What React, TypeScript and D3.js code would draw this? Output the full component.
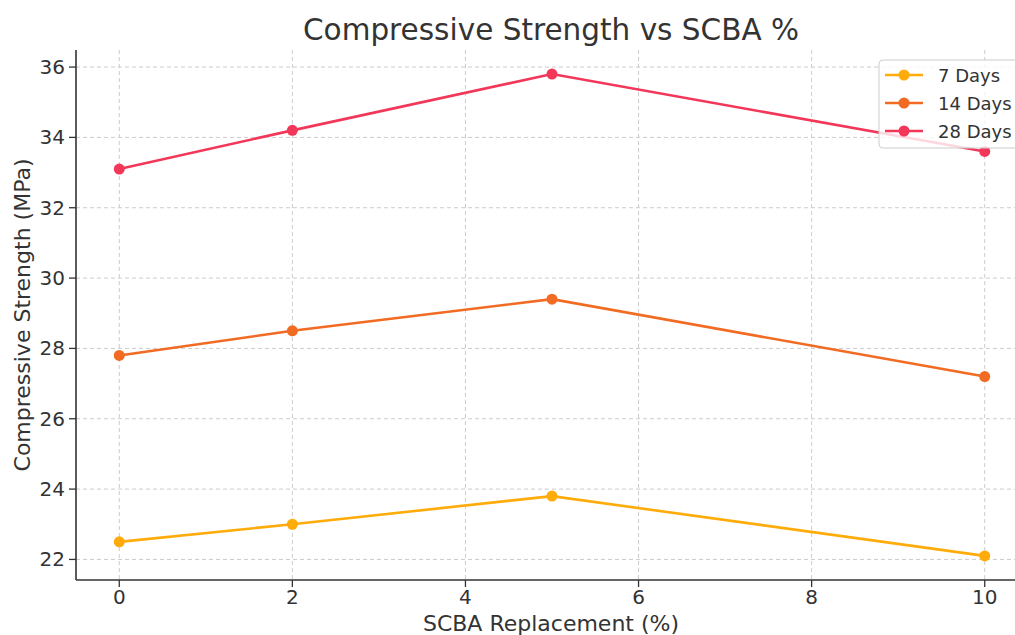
import React from "react";
import * as d3 from "d3";

const replacement = [0, 2, 5, 10];
const days7 = [22.5, 23.0, 23.8, 22.1];
const days14 = [27.8, 28.5, 29.4, 27.2];
const days28 = [33.1, 34.2, 35.8, 33.6];
const seriesNames = ["7 Days", "14 Days", "28 Days"];
const seriesColors = ["#FFAB0A", "#F26B23", "#F23759"];
const xTicks = [0, 2, 4, 6, 8, 10];
const yTicks = [22, 24, 26, 28, 30, 32, 34, 36];

const W = 1015;
const H = 635;
const FONT = "DejaVu Sans, sans-serif";
const TXT = "#333333";

export default function App() {
  const left = 76, right = 1028, top = 50, bottom = 580;
  const x = d3.scaleLinear().domain([-0.5, 10.5]).range([left, right]);
  const y = d3.scaleLinear().domain([21.415, 36.485]).range([bottom, top]);
  const allSeries = [days7, days14, days28];
  const line = d3
    .line<number>()
    .x((_, i) => x(replacement[i]))
    .y((d) => y(d));

  return (
    <div style={{ position: "absolute", left: 0, top: 0 }}>
      <svg width={W} height={H} style={{ display: "block", background: "#fff" }}>
        <rect x={0} y={0} width={W} height={H} fill="#fff" />
        {/* grid */}
        {xTicks.map((t) => (
          <line key={"gx" + t} x1={x(t)} x2={x(t)} y1={top} y2={bottom} stroke="#cccccc" strokeWidth={1} strokeDasharray="4,3" />
        ))}
        {yTicks.map((t) => (
          <line key={"gy" + t} x1={left} x2={right} y1={y(t)} y2={y(t)} stroke="#cccccc" strokeWidth={1} strokeDasharray="4,3" />
        ))}
        {/* spines */}
        <line x1={left} x2={left} y1={top} y2={bottom} stroke={TXT} strokeWidth={1.6} />
        <line x1={left} x2={right} y1={bottom} y2={bottom} stroke={TXT} strokeWidth={1.6} />
        {/* ticks */}
        {xTicks.map((t) => (
          <g key={"tx" + t}>
            <line x1={x(t)} x2={x(t)} y1={bottom} y2={bottom + 7} stroke={TXT} strokeWidth={1.3} />
            <text x={x(t)} y={bottom + 24} textAnchor="middle" fontFamily={FONT} fontSize={20} fill={TXT}>
              {t}
            </text>
          </g>
        ))}
        {yTicks.map((t) => (
          <g key={"ty" + t}>
            <line x1={left - 7} x2={left} y1={y(t)} y2={y(t)} stroke={TXT} strokeWidth={1.3} />
            <text x={left - 11} y={y(t) + 7} textAnchor="end" fontFamily={FONT} fontSize={20} fill={TXT}>
              {t}
            </text>
          </g>
        ))}
        {/* lines */}
        {allSeries.map((s, si) => (
          <g key={"s" + si}>
            <path d={line(s) || ""} fill="none" stroke={seriesColors[si]} strokeWidth={2.6} />
            {s.map((v, i) => (
              <circle key={i} cx={x(replacement[i])} cy={y(v)} r={5.5} fill={seriesColors[si]} />
            ))}
          </g>
        ))}
        {/* title and labels */}
        <text x={551} y={40} textAnchor="middle" fontFamily={FONT} fontSize={29.5} fill={TXT}>
          Compressive Strength vs SCBA %
        </text>
        <text x={551} y={631} textAnchor="middle" fontFamily={FONT} fontSize={22} fill={TXT}>
          SCBA Replacement (%)
        </text>
        <text
          transform={`translate(30,${(top + bottom) / 2}) rotate(-90)`}
          textAnchor="middle"
          fontFamily={FONT}
          fontSize={22}
          fill={TXT}
        >
          Compressive Strength (MPa)
        </text>
        {/* legend */}
        <rect x={879} y={60} width={160} height={88} rx={4} fill="#ffffff" fillOpacity={0.8} stroke="#cccccc" strokeWidth={1} />
        {seriesNames.map((n, i) => {
          const ly = 75 + i * 28;
          return (
            <g key={"l" + i}>
              <line x1={885} x2={923} y1={ly} y2={ly} stroke={seriesColors[i]} strokeWidth={2.6} />
              <circle cx={904} cy={ly} r={5.5} fill={seriesColors[i]} />
              <text x={938} y={ly + 6.5} fontFamily={FONT} fontSize={18} fill={TXT}>
                {n}
              </text>
            </g>
          );
        })}
      </svg>
    </div>
  );
}
